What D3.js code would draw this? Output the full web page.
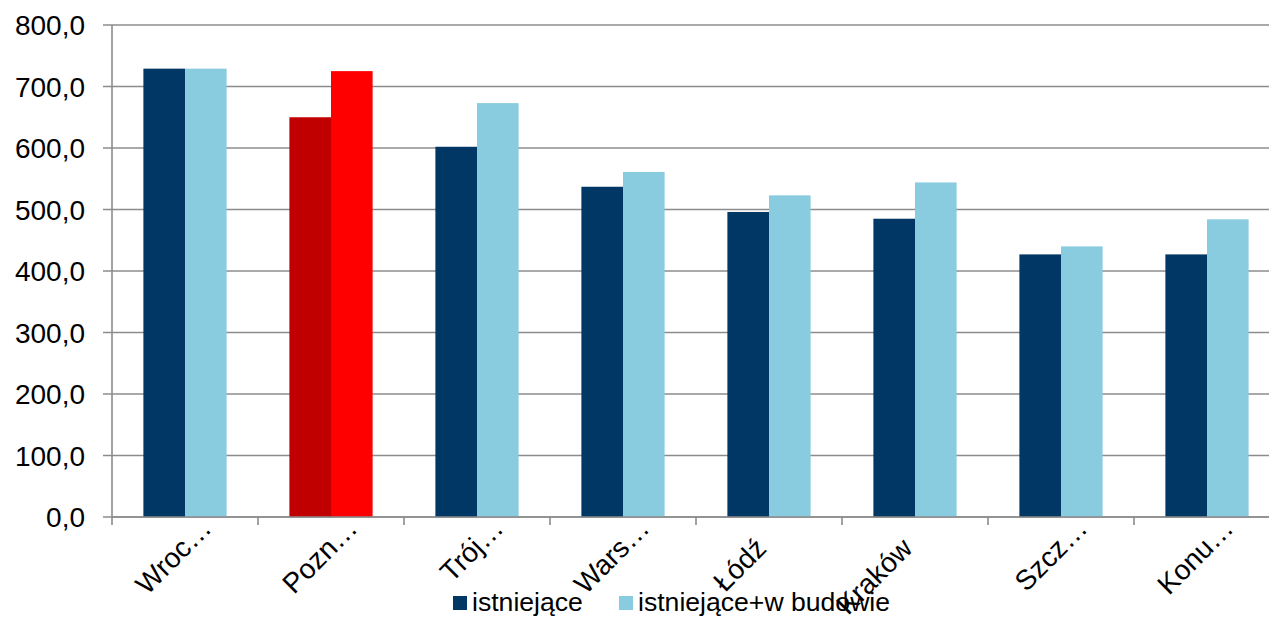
<!DOCTYPE html>
<html>
<head>
<meta charset="utf-8">
<script src="https://cdn.jsdelivr.net/npm/d3@7"></script>
<style>
  body { margin: 0; background: #fff; }
  text { font-family: "Liberation Sans", Arial, sans-serif; }
</style>
</head>
<body>
<div id="chart"></div>
<script>
var width = 1269, height = 618;

// data
var categories = ["Wroc\u2026", "Pozn\u2026", "Tr\u00f3j\u2026", "Wars\u2026", "\u0141\u00f3d\u017a", "Krak\u00f3w", "Szcz\u2026", "Konu\u2026"];
var existing = [729, 650, 602, 537, 496, 485, 427, 427];
var withBuilding = [729, 725, 673, 561, 523, 544, 440, 484];
var seriesNames = ["istniej\u0105ce", "istniej\u0105ce+w budowie"];
var yTicks = [0, 100, 200, 300, 400, 500, 600, 700, 800];

var colors = ["#003764", "#89CBDF"];
var highlight = "Pozn\u2026";
var highlightColors = ["#C00000", "#FF0000"];

var plotLeft = 112, plotRight = 1280, plotTop = 25, plotBottom = 517;

var svg = d3.select("#chart")
    .append("svg")
    .attr("width", width)
    .attr("height", height);

var x0 = d3.scaleBand()
    .domain(categories)
    .range([plotLeft, plotRight])
    .paddingInner(0.43)
    .paddingOuter(0.215);

var x1 = d3.scaleBand()
    .domain([0, 1])
    .range([0, x0.bandwidth()]);

var y = d3.scaleLinear()
    .domain([0, 800])
    .range([plotBottom, plotTop]);

var fmt = function(v) { return d3.format(".1f")(v).replace(".", ","); };

// gridlines + y labels
svg.append("g")
    .selectAll("line")
    .data(yTicks)
    .enter()
    .append("line")
        .attr("x1", plotLeft - 9)
        .attr("x2", width)
        .attr("y1", function(d) { return y(d); })
        .attr("y2", function(d) { return y(d); })
        .attr("stroke", "#8c8c8c")
        .attr("stroke-width", 1.6);

svg.append("g")
    .selectAll("text")
    .data(yTicks)
    .enter()
    .append("text")
        .attr("x", 85)
        .attr("y", function(d) { return y(d); })
        .attr("dy", "0.36em")
        .attr("text-anchor", "end")
        .attr("font-size", 28)
        .attr("fill", "#000")
        .text(fmt);

// y axis line
svg.append("line")
    .attr("x1", plotLeft).attr("x2", plotLeft)
    .attr("y1", plotTop).attr("y2", plotBottom)
    .attr("stroke", "#8c8c8c")
    .attr("stroke-width", 1.6);

// bars
var rows = categories.map(function(c, i) { return { cat: c, vals: [existing[i], withBuilding[i]] }; });

var groups = svg.append("g")
    .selectAll("g")
    .data(rows)
    .enter()
    .append("g")
    .attr("transform", function(d) { return "translate(" + x0(d.cat) + ",0)"; });

groups.selectAll("rect")
    .data(function(d) { return d.vals.map(function(v, k) { return { cat: d.cat, k: k, v: v }; }); })
    .enter()
    .append("rect")
        .attr("x", function(d) { return x1(d.k); })
        .attr("width", x1.bandwidth())
        .attr("y", function(d) { return y(d.v); })
        .attr("height", function(d) { return y(0) - y(d.v); })
        .attr("fill", function(d) { return d.cat === highlight ? highlightColors[d.k] : colors[d.k]; });

// x axis line + category ticks
svg.append("line")
    .attr("x1", plotLeft).attr("x2", width)
    .attr("y1", plotBottom).attr("y2", plotBottom)
    .attr("stroke", "#8c8c8c")
    .attr("stroke-width", 1.6);

var step = x0.step();
svg.append("g")
    .selectAll("line")
    .data(d3.range(categories.length + 1))
    .enter()
    .append("line")
        .attr("x1", function(i) { return plotLeft + i * step; })
        .attr("x2", function(i) { return plotLeft + i * step; })
        .attr("y1", plotBottom)
        .attr("y2", plotBottom + 8)
        .attr("stroke", "#8c8c8c")
        .attr("stroke-width", 1.6);

// rotated category labels (truncated ones sit a bit higher, like the original)
svg.append("g")
    .selectAll("text")
    .data(categories)
    .enter()
    .append("text")
        .attr("transform", function(d) {
            var cx = x0(d) + x0.bandwidth() / 2;
            var cut = d.slice(-1) === "\u2026";
            var px = cx + (cut ? 28 : -1), py = cut ? 530 : 550;
            return "translate(" + px + "," + py + ") rotate(-45)";
        })
        .attr("text-anchor", "end")
        .attr("font-size", 28)
        .attr("fill", "#000")
        .text(function(d) { return d; });

// legend
var legendX = [453, 619];
var legend = svg.append("g")
    .selectAll("g")
    .data(seriesNames)
    .enter()
    .append("g")
    .attr("transform", function(d, i) { return "translate(" + legendX[i] + ",596)"; });

legend.append("rect")
    .attr("width", 14)
    .attr("height", 14)
    .attr("fill", function(d, i) { return colors[i]; });

legend.append("text")
    .attr("x", 19)
    .attr("y", 15)
    .attr("font-size", 26.6)
    .attr("fill", "#000")
    .text(function(d) { return d; });
</script>
</body>
</html>
